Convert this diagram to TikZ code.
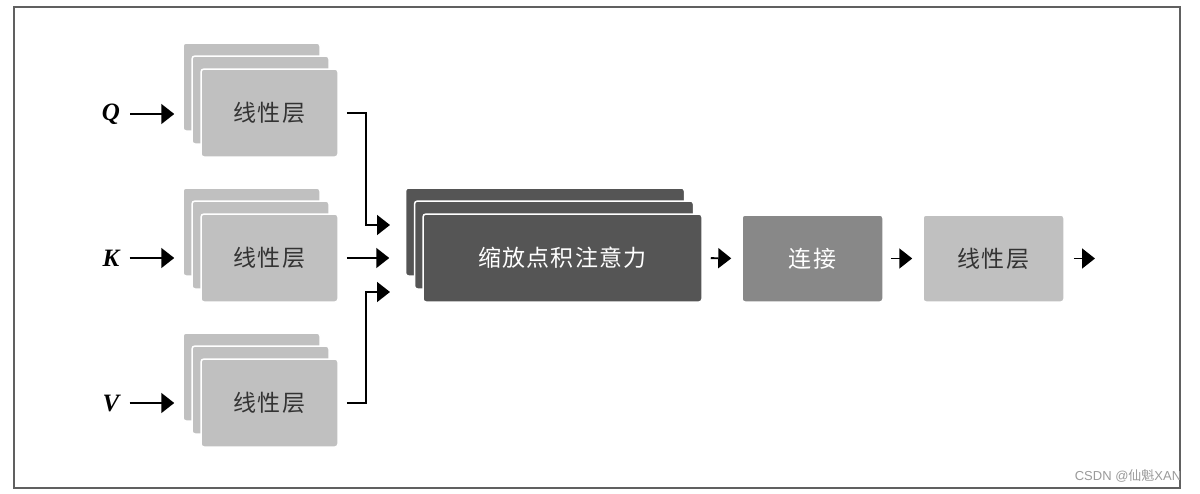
\documentclass[tikz,border=0pt]{standalone}
\usepackage{fontspec}
\setmainfont{Liberation Serif}
\newfontfamily\cjk{Noto Sans CJK SC}
\newfontfamily\wmfont{Liberation Sans}
\usetikzlibrary{arrows.meta, positioning, calc}
\definecolor{tikzlight}{HTML}{C0C0C0}
\definecolor{tikzmid}{HTML}{888888}
\definecolor{tikzdark}{HTML}{555555}
\definecolor{tikzframe}{HTML}{606060}
\definecolor{tikztext}{HTML}{333333}

\begin{document}
\begin{tikzpicture}[x=1pt, y=-1pt,
    card/.style={draw=white, line width=1.5pt, rounded corners=3pt, inner sep=0pt},
    lincard/.style={card, fill=tikzlight, minimum width=137pt, minimum height=88pt,
      font=\cjk\fontsize{23}{23}\selectfont, text=tikztext},
    attcard/.style={card, fill=tikzdark, minimum width=279pt, minimum height=88pt,
      font=\cjk\fontsize{23}{23}\selectfont, text=white},
    boxcard/.style={card, minimum width=141pt, minimum height=87pt,
      font=\cjk\fontsize{23}{23}\selectfont},
    inlabel/.style={font=\fontsize{25}{25}\selectfont\bfseries\itshape, inner sep=2pt},
    arr/.style={line width=1.8pt, -{Triangle[length=13pt, width=20pt]}}]
  \useasboundingbox (0,0) rectangle (1200,493);
  \draw[tikzframe, line width=1.2pt] (14,7) rectangle (1180,488);

  % three linear layers, each a stack of three cards
  \foreach \n/\y in {q/113, k/258, v/403} {
    \node[lincard] (\n1) at (251.5, \y-26) {};
    \node[lincard] (\n2) at (260.5, \y-13) {};
    \node[lincard] (\n3) at (269.5, \y) {\addfontfeatures{LetterSpace=6}线性层};
  }
  \node[inlabel] (lq) at (111, 114) {Q};
  \node[inlabel] (lk) at (111, 258) {K};
  \node[inlabel] (lv) at (111, 403) {V};

  \node[attcard] (a1) at (545, 232) {};
  \node[attcard] (a2) at (554, 245) {};
  \node[attcard] (a3) at (562.5, 258) {\addfontfeatures{LetterSpace=5}缩放点积注意力};

  \node[boxcard, fill=tikzmid, text=white] (cat) at (812.5, 258.5) {\addfontfeatures{LetterSpace=6}连接};
  \node[boxcard, fill=tikzlight, text=tikztext] (lin) at (993.5, 258.5) {\addfontfeatures{LetterSpace=6}线性层};

  \coordinate (inq) at (390, 225);
  \coordinate (inv) at (390, 292);
  \coordinate (out) at (1095, 258.5);

  \draw[arr, shorten <=8pt, shorten >=8pt] (lq) -- (q1.west |- lq);
  \draw[arr, shorten <=8pt, shorten >=8pt] (lk) -- (k1.west |- lk);
  \draw[arr, shorten <=8pt, shorten >=8pt] (lv) -- (v1.west |- lv);

  \draw[arr, shorten <=8pt] (q3.east) -| ([xshift=-24pt]inq) -- (inq);
  \draw[arr, shorten <=8pt, shorten >=33pt] (k3.east) -- (a3.west);
  \draw[arr, shorten <=8pt] (v3.east) -| ([xshift=-24pt]inv) -- (inv);

  \draw[arr, shorten <=8pt, shorten >=10pt] (a3.east) -- (cat.west);
  \draw[arr, shorten <=7pt, shorten >=10pt] (cat.east) -- (lin.west);
  \draw[arr, shorten <=9pt] (lin.east) -- (out);

  \node[text=tikzlight!80!black, font=\wmfont\fontsize{13}{13}\selectfont] (wm) at (1128, 476)
    {CSDN @{\cjk 仙魁}XAN};
\end{tikzpicture}
\end{document}
